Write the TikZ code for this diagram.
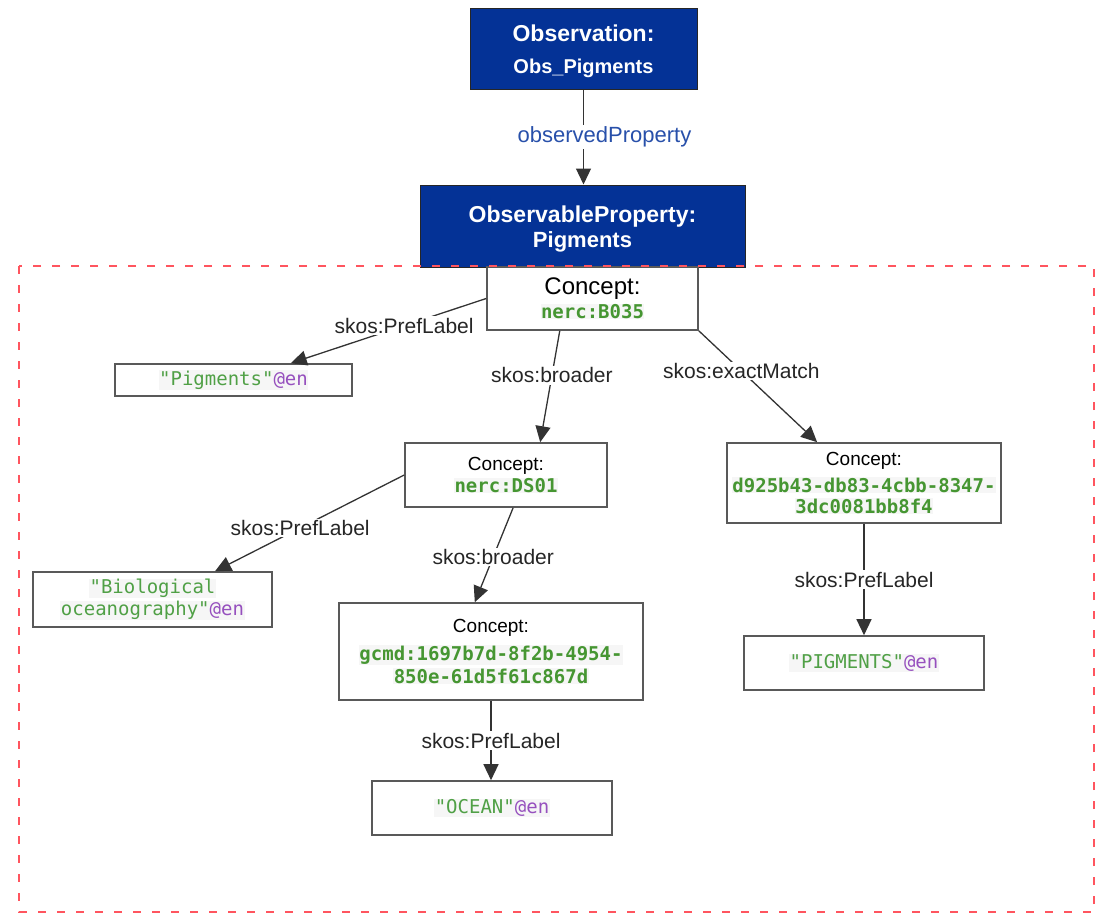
\documentclass[tikz,border=0pt]{standalone}
\usepackage{fontspec}
\setmainfont{Liberation Sans}
\newfontfamily\codefont{DejaVu Sans Mono}
\usetikzlibrary{arrows.meta,calc}

\definecolor{obsblue}{RGB}{4,50,150}
\definecolor{propblue}{RGB}{40,80,170}
\definecolor{idgreen}{RGB}{70,150,50}
\definecolor{litgreen}{RGB}{80,160,70}
\definecolor{langpurple}{RGB}{150,80,190}
\definecolor{framered}{RGB}{255,85,95}
\definecolor{codebg}{RGB}{246,246,246}

% identifiers and literals in monospace, on a faint grey highlight
\newcommand\idtext[1]{{\setlength\fboxsep{0.5pt}\colorbox{codebg}{\codefont\bfseries\color{idgreen}#1}}}
\newcommand\littext[2]{{\setlength\fboxsep{0.5pt}\colorbox{codebg}{\codefont\color{litgreen}#1\color{langpurple}#2}}}
\newcommand\sz[2]{\fontsize{#1}{#2}\selectfont}

\begin{document}
\begin{tikzpicture}[x=1pt,y=-1pt,
  bluebox/.style={draw=black!85, fill=obsblue, text=white,
    align=center, inner sep=0pt, line width=1pt},
  conceptbox/.style={draw=black!65, fill=white, line width=1.6pt,
    align=center, inner sep=0pt, font=\sz{19}{22}},
  rel/.style={fill=white, inner sep=1.5pt, text=black!85, font=\sz{21}{24}},
  link/.style={draw=black!80, line width=1.3pt,
    -{Triangle[length=16pt,width=15pt]}},
  frame/.style={draw=framered, line width=2.8pt, dash pattern=on 8pt off 11pt}]
\useasboundingbox (0,0) rectangle (1101,916);

% top-level observation and its property
\node[bluebox, font=\bfseries\sz{23}{32}, minimum width=227pt, minimum height=81pt] (obs) at (583.5,48.5)
  {\rule{0pt}{23pt}Observation:\\{\sz{20}{32}Obs\_Pigments}};
\node[bluebox, font=\bfseries\sz{23}{25}, minimum width=325pt, minimum height=82pt] (prop) at (582.5,226)
  {\rule{0pt}{23pt}ObservableProperty:\\{\sz{22}{25}Pigments}};

% SKOS concepts
\node[conceptbox, minimum width=211pt, minimum height=63pt] (b035) at (592.5,298.5)
  {\sz{24}{26}Concept:\\[2pt]\sz{19}{22}\idtext{nerc:B035}};
\node[conceptbox, minimum width=202pt, minimum height=64pt] (ds01) at (506,475)
  {Concept:\\\idtext{nerc:DS01}};
\node[conceptbox, minimum width=274pt, minimum height=80pt] (d925) at (864,483)
  {Concept:\\[5pt]\idtext{d925b43-db83-4cbb-8347-}\\[-1pt]\idtext{3dc0081bb8f4}};
\node[conceptbox, minimum width=304pt, minimum height=97pt] (gcmd) at (491,651.5)
  {Concept:\\[6pt]\idtext{gcmd:1697b7d-8f2b-4954-}\\[1pt]\idtext{850e-61d5f61c867d}};

% preferred labels
\node[conceptbox, minimum width=237pt, minimum height=32pt] (pig) at (233.5,380)
  {\littext{"Pigments"}{@en}};
\node[conceptbox, minimum width=239pt, minimum height=55pt] (bio) at (152.5,599.5)
  {\littext{"Biological}{}\\\littext{oceanography"}{@en}};
\node[conceptbox, minimum width=240pt, minimum height=54pt] (ocean) at (492,808)
  {\littext{"OCEAN"}{@en}};
\node[conceptbox, minimum width=240pt, minimum height=54pt] (pigm) at (864,663)
  {\littext{"PIGMENTS"}{@en}};

% relations
\draw[link] (obs.south) -- node[rel, text=propblue, font=\sz{22}{24}, xshift=21pt] {observedProperty}
  (obs.south |- prop.north);
\draw[link] (b035.west) -- node[rel, pos=0.42] {skos:PrefLabel}
  ($(pig.north west)!0.74!(pig.north east)$);
\draw[link] ($(b035.south west)!0.346!(b035.south east)$) -- node[rel, pos=0.4] {skos:broader}
  ($(ds01.north west)!0.668!(ds01.north east)$);
\draw[link] (b035.south east) -- node[rel, pos=0.36] {skos:exactMatch}
  ($(d925.north west)!0.33!(d925.north east)$);
\draw[link] (ds01.west) -- node[rel, pos=0.55] {skos:PrefLabel}
  ($(bio.north west)!0.76!(bio.north east)$);
\draw[link] ($(ds01.south west)!0.535!(ds01.south east)$) -- node[rel, pos=0.52] {skos:broader}
  ($(gcmd.north west)!0.447!(gcmd.north east)$);
\draw[link] (gcmd.south) -- node[rel] {skos:PrefLabel} (gcmd.south |- ocean.north);
\draw[link] (d925.south) -- node[rel] {skos:PrefLabel} (pigm.north);

% dashed frame round the vocabulary part
\draw[frame] (19,266) rectangle (1094,912);
\end{tikzpicture}
\end{document}
